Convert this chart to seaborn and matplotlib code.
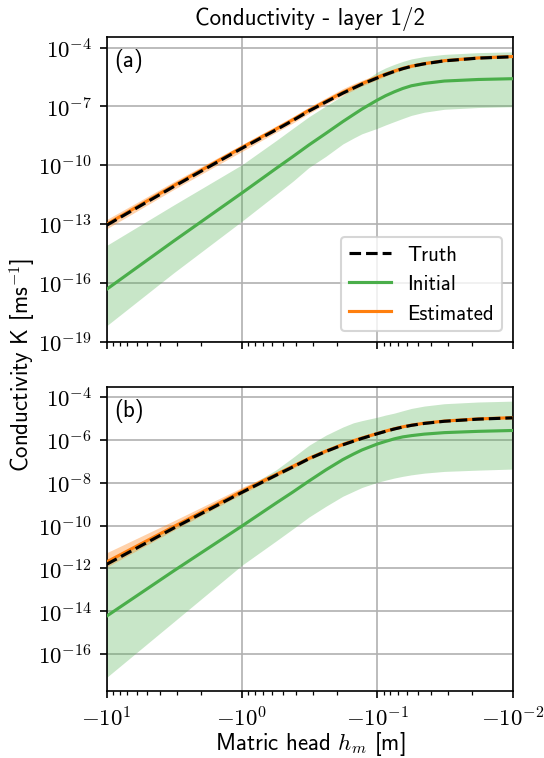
import numpy as np
import matplotlib
matplotlib.use("Agg")
import matplotlib.pyplot as plt
import matplotlib.ticker as mticker
import seaborn as sns

# ---------------- data (log10 of conductivity) ----------------
h = [-10, -3.2, -1, -0.56, -0.42, -0.32, -0.24, -0.18, -0.15, -0.13, -0.1,
     -0.087, -0.075, -0.065, -0.056, -0.045, -0.032, -0.018, -0.01]

truth_a = [-13.07, -11.10, -9.14, -8.20, -7.72, -7.24, -6.78, -6.33, -6.07, -5.87, -5.55,
           -5.38, -5.22, -5.08, -4.96, -4.83, -4.68, -4.54, -4.47]
est_a = [-13.02, -11.05, -9.10, -8.16, -7.68, -7.20, -6.74, -6.29, -6.04, -5.84, -5.52,
         -5.36, -5.20, -5.06, -4.95, -4.82, -4.67, -4.53, -4.46]
est_lo_a = [-13.25, -11.25, -9.30, -8.33, -7.85, -7.36, -6.89, -6.44, -6.17, -5.96, -5.64,
            -5.46, -5.29, -5.14, -5.02, -4.88, -4.72, -4.57, -4.50]
est_hi_a = [-12.78, -10.85, -8.95, -8.00, -7.52, -7.04, -6.57, -6.10, -5.85, -5.67, -5.38,
            -5.23, -5.10, -4.98, -4.88, -4.76, -4.63, -4.50, -4.43]
init_a = [-16.34, -13.88, -11.42, -10.17, -9.56, -8.97, -8.38, -7.78, -7.42, -7.14, -6.68,
          -6.46, -6.26, -6.09, -5.95, -5.83, -5.71, -5.63, -5.59]
init_lo_a = [-18.20, -15.50, -12.86, -11.50, -10.82, -10.12, -9.55, -8.92, -8.62, -8.40, -8.12,
             -7.95, -7.78, -7.62, -7.46, -7.30, -7.15, -7.06, -7.02]
init_hi_a = [-14.10, -12.04, -9.98, -8.75, -8.12, -7.53, -6.98, -6.45, -6.05, -5.78, -5.25,
             -5.04, -4.86, -4.71, -4.58, -4.46, -4.35, -4.26, -4.22]

truth_b = [-11.81, -10.12, -8.45, -7.65, -7.26, -6.88, -6.54, -6.23, -6.06, -5.93, -5.71,
           -5.60, -5.49, -5.40, -5.32, -5.23, -5.13, -5.03, -4.97]
est_b = [-11.70, -10.05, -8.40, -7.62, -7.23, -6.86, -6.52, -6.21, -6.04, -5.91, -5.70,
         -5.59, -5.48, -5.39, -5.31, -5.22, -5.12, -5.02, -4.96]
est_lo_b = [-11.94, -10.22, -8.53, -7.72, -7.33, -6.94, -6.60, -6.28, -6.11, -5.97, -5.75,
            -5.64, -5.52, -5.43, -5.35, -5.26, -5.15, -5.05, -4.99]
est_hi_b = [-11.27, -9.78, -8.22, -7.50, -7.13, -6.78, -6.46, -6.16, -6.00, -5.88, -5.66,
            -5.56, -5.45, -5.36, -5.29, -5.20, -5.10, -5.00, -4.93]
init_b = [-14.23, -12.12, -10.02, -8.95, -8.43, -7.92, -7.40, -6.92, -6.66, -6.47, -6.19,
          -6.07, -5.95, -5.86, -5.80, -5.73, -5.66, -5.60, -5.56]
init_lo_b = [-17.09, -14.50, -11.85, -10.72, -10.15, -9.60, -9.10, -8.63, -8.40, -8.22, -7.98,
             -7.88, -7.78, -7.70, -7.63, -7.55, -7.47, -7.41, -7.36]
init_hi_b = [-11.66, -10.00, -8.34, -7.40, -6.82, -6.25, -5.78, -5.40, -5.20, -5.10, -4.94,
             -4.84, -4.75, -4.64, -4.53, -4.42, -4.31, -4.23, -4.19]

yticks_a = [-19, -16, -13, -10, -7, -4]
yticks_b = [-16, -14, -12, -10, -8, -6, -4]
xticks = [-10, -1, -0.1, -0.01]
panel_labels = ["(a)", "(b)"]
legend_labels = ["Truth", "Initial", "Estimated"]

# ---------------- style ----------------
plt.rcParams.update({
    "font.family": ["cmss10", "DejaVu Sans"],
    "mathtext.fontset": "cm",
    "axes.unicode_minus": False,
    "axes.formatter.use_mathtext": True,
    "font.size": 10,
})

GREEN = "#4aae4a"
ORANGE = "#ff7f0e"


def log_fmt(v, pos=None):
    if v == 0:
        return ""
    e = int(round(np.log10(abs(v))))
    sign = "-" if v < 0 else ""
    return r"$\mathrm{%s10^{%d}}$" % (sign, e)


fig = plt.figure(figsize=(544 / 150, 759 / 150), dpi=150)
ax_a = fig.add_axes([0.1958, 0.5487, 0.7468, 0.4013])
ax_b = fig.add_axes([0.1958, 0.0883, 0.7468, 0.4005])

datasets = [
    (ax_a, truth_a, est_a, est_lo_a, est_hi_a, init_a, init_lo_a, init_hi_a, yticks_a, (-19, -3.46)),
    (ax_b, truth_b, est_b, est_lo_b, est_hi_b, init_b, init_lo_b, init_hi_b, yticks_b, (-17.72, -3.53)),
]

hx = np.array(h)
for i, (ax, tr, es, elo, ehi, ini, ilo, ihi, yt, ylim) in enumerate(datasets):
    p = lambda v: 10.0 ** np.array(v)
    ax.fill_between(hx, p(ilo), p(ihi), color=GREEN, alpha=0.3, lw=0, zorder=1)
    ax.fill_between(hx, p(elo), p(ehi), color=ORANGE, alpha=0.35, lw=0, zorder=2)
    sns.lineplot(x=hx, y=p(ini), ax=ax, color=GREEN, lw=1.5, label="Initial", zorder=3)
    sns.lineplot(x=hx, y=p(es), ax=ax, color=ORANGE, lw=1.5, label="Estimated", zorder=4)
    sns.lineplot(x=hx, y=p(tr), ax=ax, color="black", lw=1.5, ls="--", label="Truth", zorder=5)

    ax.set_yscale("log")
    ax.set_xscale("symlog", linthresh=1e-3, subs=[2, 3, 4, 5, 6, 7, 8, 9])
    ax.set_xlim(-10, -0.01)
    ax.set_ylim(10.0 ** ylim[0], 10.0 ** ylim[1])
    ax.yaxis.set_major_locator(mticker.FixedLocator([10.0 ** t for t in yt]))
    ax.yaxis.set_minor_locator(mticker.NullLocator())
    ax.yaxis.set_major_formatter(mticker.FuncFormatter(log_fmt))
    ax.xaxis.set_major_locator(mticker.FixedLocator(xticks))
    ax.xaxis.set_major_formatter(mticker.FuncFormatter(log_fmt))
    ax.grid(True, which="major", color="#b0b0b0", lw=0.8)
    ax.set_axisbelow(True)
    for s in ax.spines.values():
        s.set_color("black")
        s.set_linewidth(0.8)
    ax.tick_params(which="both", direction="out", colors="black", labelsize=11)
    ax.text(0.018, 0.965, panel_labels[i], transform=ax.transAxes, ha="left", va="top", fontsize=11)
    ax.set_xlabel("")
    ax.set_ylabel("")
    if ax.get_legend() is not None:
        ax.get_legend().remove()

ax_a.tick_params(axis="x", labelbottom=False)
handles, labels = ax_a.get_legend_handles_labels()
order = [labels.index(l) for l in legend_labels]
ax_a.legend([handles[j] for j in order], [labels[j] for j in order], loc="lower right", fontsize=10)

ax_a.set_title("Conductivity - layer 1/2", fontsize=11)
fig.text(0.5694, 0.0197, "Matric head $h_m$ [m]", ha="center", va="center", fontsize=11)
fig.text(0.042, 0.519, "Conductivity K [ms$^{-1}$]", rotation=90, ha="center", va="center", fontsize=11)

fig.savefig("out.png", dpi=150)
